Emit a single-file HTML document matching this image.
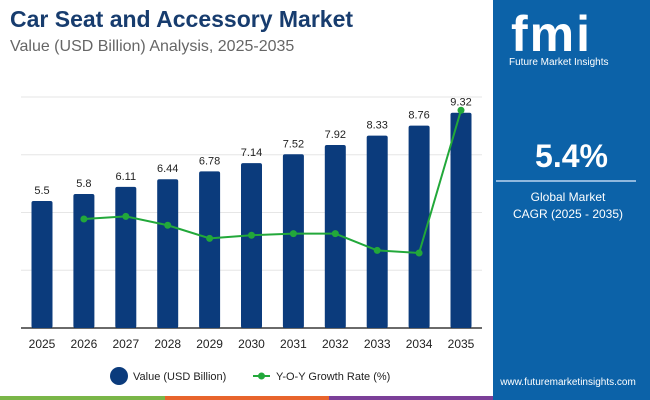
<!DOCTYPE html>
<html><head><meta charset="utf-8"><style>
body{margin:0;width:650px;height:400px;overflow:hidden;background:#fff;font-family:"Liberation Sans",sans-serif;position:relative}
.t{position:absolute}
</style></head><body>
<div class="t" style="left:10px;top:6px;font-size:23px;font-weight:bold;color:#173c6e">Car Seat and Accessory Market</div>
<div class="t" style="left:10px;top:38px;font-size:16px;color:#666">Value (USD Billion) Analysis, 2025-2035</div>
<div class="t" style="left:493px;top:0;width:157px;height:400px;background:#0c62a8">
  <div style="position:absolute;left:18px;top:8px;font-size:50px;font-weight:bold;color:#fff;letter-spacing:2px;line-height:52px">fmi</div>
  <div style="position:absolute;left:16px;top:57px;font-size:10px;color:#fff">Future Market Insights</div>
  <div style="position:absolute;left:0;width:157px;top:138px;text-align:center;font-size:32px;font-weight:bold;color:#fff">5.4%</div>
  <div style="position:absolute;left:3px;width:140px;top:180px;height:2px;background:#8fb8de"></div>
  <div style="position:absolute;left:0;width:150px;top:189px;text-align:center;font-size:12px;line-height:17px;color:#fff">Global Market<br>CAGR (2025 - 2035)</div>
  <div style="position:absolute;left:0;width:150px;top:377px;text-align:center;font-size:10px;color:#fff">www.futuremarketinsights.com</div>
</div>
<div class="t" style="left:0;top:396px;width:165px;height:4px;background:#7ab648"></div>
<div class="t" style="left:165px;top:396px;width:164px;height:4px;background:#e8642c"></div>
<div class="t" style="left:329px;top:396px;width:164px;height:4px;background:#7b3f98"></div>
<svg class="t" style="left:0;top:0" width="493" height="400" id="chart"></svg>
<script>
const years=["2025","2026","2027","2028","2029","2030","2031","2032","2033","2034","2035"];
const values=[5.5,5.8,6.11,6.44,6.78,7.14,7.52,7.92,8.33,8.76,9.32];
const growth=[null,5.45,5.5,5.33,5.08,5.14,5.17,5.17,4.85,4.8,7.53];
const gridVals=[0,2.5,5,7.5,10];
const NS="http://www.w3.org/2000/svg";
const svg=document.getElementById('chart');
const x=i=>42+i*41.9;
const y=v=>328-v*23.1;
const yg=r=>219-(r-5.45)*52.3;
function mk(t,a){const e=document.createElementNS(NS,t);for(const k in a)e.setAttribute(k,a[k]);svg.appendChild(e);return e;}
gridVals.forEach(g=>{const l=mk('line',{x1:21,x2:482,y1:y(g),y2:y(g),stroke:g===0?'#111':'#e6e6e6','stroke-width':g===0?1.3:1});

});
values.forEach((v,i)=>{
const r=mk('rect',{x:x(i)-10.5,y:y(v),width:21,height:328-y(v),fill:'#0b3b7c',rx:2});


const t=mk('text',{x:x(i),y:y(v)-7,'text-anchor':'middle','font-size':11,fill:'#222','font-family':'Liberation Sans'});t.textContent=v;


const tk=mk('text',{x:x(i),y:348,'text-anchor':'middle','font-size':12,fill:'#222','font-family':'Liberation Sans'});tk.textContent=years[i];


});
const pts=growth.map((g,i)=>g==null?null:[x(i),yg(g)]).filter(p=>p);
const pl=mk('polyline',{points:pts.map(p=>p.join(',')).join(' '),fill:'none',stroke:'#22a83a','stroke-width':2});


pts.forEach(p=>{const c=mk('circle',{cx:p[0],cy:p[1],r:3.5,fill:'#22a83a'});

});
const lc=mk('circle',{cx:119,cy:376,r:9,fill:'#0b3b7c'});


const lt=mk('text',{x:133,y:380,'font-size':11,fill:'#222','font-family':'Liberation Sans'});lt.textContent='Value (USD Billion)';


const ll=mk('line',{x1:253,x2:270,y1:376,y2:376,stroke:'#22a83a','stroke-width':2});


const lp=mk('circle',{cx:261.5,cy:376,r:3.5,fill:'#22a83a'});


const lt2=mk('text',{x:276,y:380,'font-size':11,fill:'#222','font-family':'Liberation Sans'});lt2.textContent='Y-O-Y Growth Rate (%)';


</script>
</body></html>
